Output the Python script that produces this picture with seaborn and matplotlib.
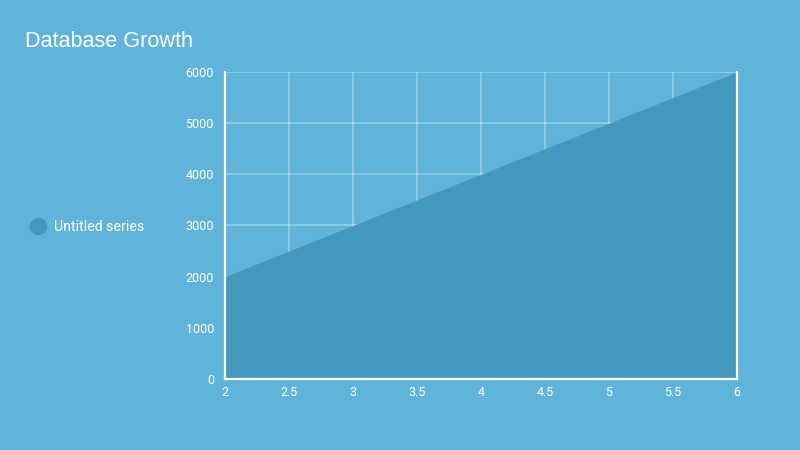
import matplotlib

matplotlib.use("Agg")

import matplotlib.pyplot as plt
from matplotlib.lines import Line2D
import pandas as pd
import seaborn as sns

X_VALUES = [2, 3, 4, 5, 6]
Y_VALUES = [2000, 3000, 4000, 5000, 6000]
SERIES_NAME = "Untitled series"
X_TICKS = [2, 2.5, 3, 3.5, 4, 4.5, 5, 5.5, 6]
Y_TICKS = [0, 1000, 2000, 3000, 4000, 5000, 6000]

BG = "#60b4d9"
AREA = "#4697bd"

sns.set_theme(style="white")
plt.rcParams["font.family"] = ["Roboto", "DejaVu Sans"]

data = pd.DataFrame({"x": X_VALUES, "y": Y_VALUES})

fig = plt.figure(figsize=(8, 4.5), dpi=100, facecolor=BG)
ax = fig.add_axes([0.28125, 0.158, 0.64, 0.682])
ax.set_facecolor(BG)

sns.lineplot(data=data, x="x", y="y", ax=ax, color=AREA, linewidth=0)
ax.fill_between(data["x"], data["y"], 0, color=AREA, linewidth=0, zorder=2)

ax.set_xlim(2, 6)
ax.set_ylim(0, 6000)
ax.set_xticks(X_TICKS)
ax.set_xticklabels([f"{t:g}" for t in X_TICKS])
ax.set_yticks(Y_TICKS)
ax.grid(True, color="white", alpha=0.35, linewidth=1.2, zorder=1)
ax.set_axisbelow(True)
ax.tick_params(colors="white", labelsize=9, length=0)
ax.tick_params(axis="y", pad=8)
ax.tick_params(axis="x", pad=5)
ax.set_xlabel("")
ax.set_ylabel("")

for side in ["left", "bottom", "right"]:
    ax.spines[side].set_color("white")
    ax.spines[side].set_linewidth(1.6)
    ax.spines[side].set_zorder(3)
ax.spines["top"].set_visible(False)

fig.text(0.031, 0.908, "Database Growth", color="white", fontsize=15.6,
         family=["Liberation Sans", "DejaVu Sans"], va="center", ha="left")

handle = Line2D([], [], marker="o", linestyle="", markersize=11.5,
                markerfacecolor=AREA, markeredgecolor=AREA)
fig.legend([handle], [SERIES_NAME], loc="center left", bbox_to_anchor=(0.021, 0.496),
           frameon=False, fontsize=10.2, labelcolor="white", handletextpad=0.55,
           handlelength=1.2)

fig.savefig("out.png", dpi=100, facecolor=BG)
